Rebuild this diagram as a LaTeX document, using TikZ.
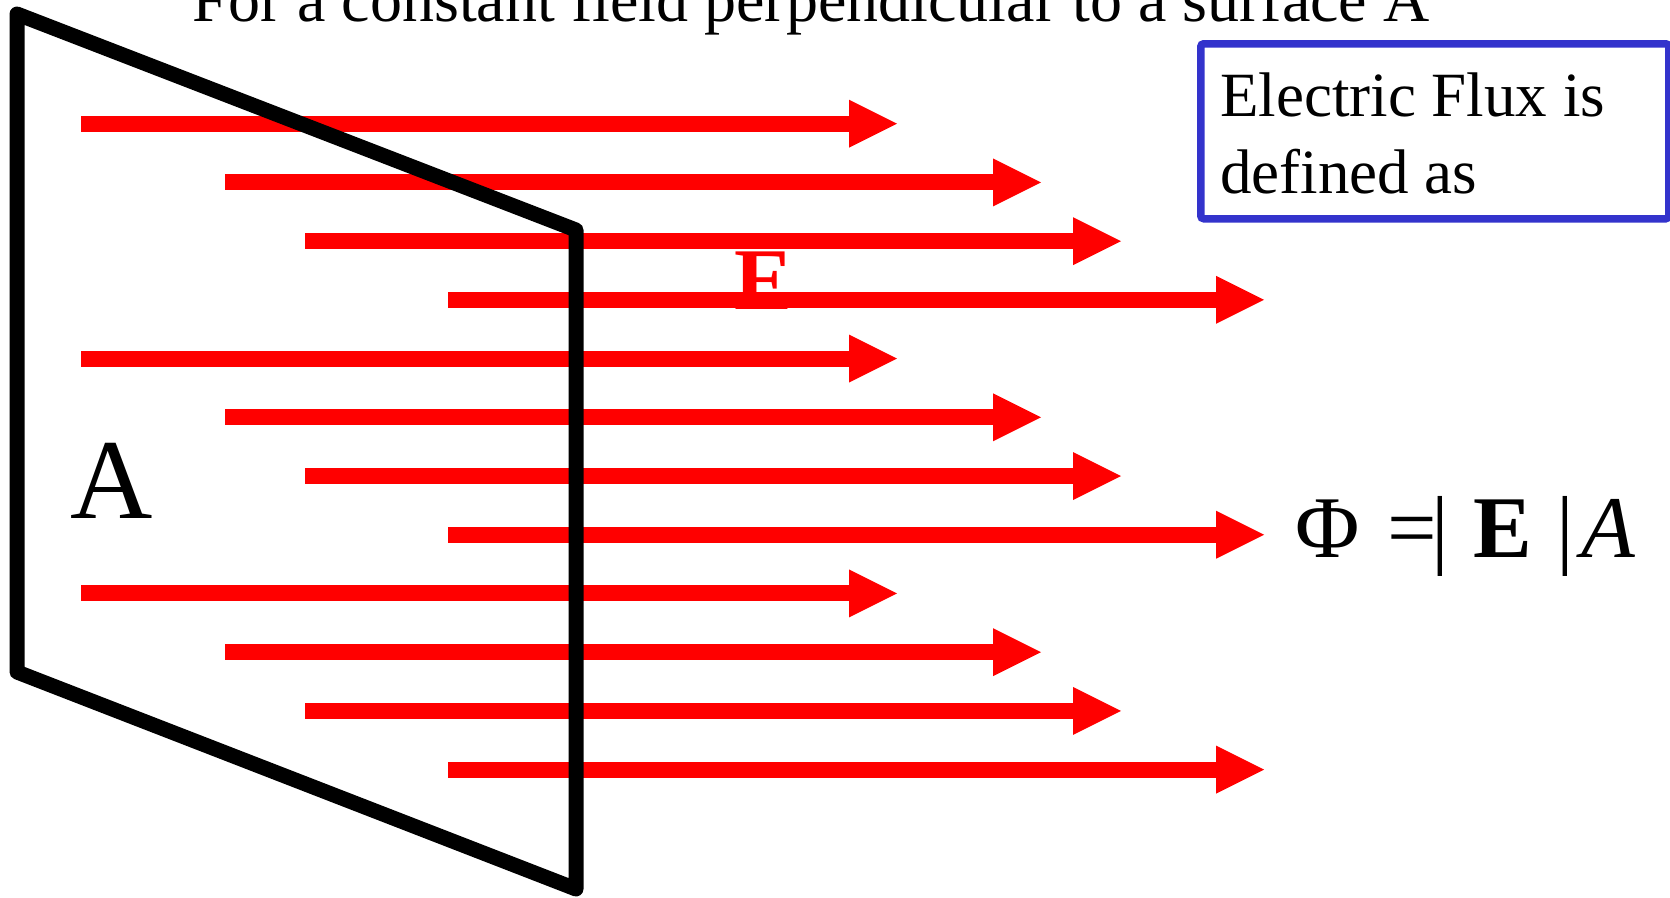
\documentclass[tikz,border=0pt]{standalone}
\usepackage{fontspec}
\setmainfont{Liberation Serif}
\usetikzlibrary{arrows.meta}
\definecolor{fieldred}{RGB}{255,0,0}
\definecolor{boxblue}{RGB}{51,51,204}
\begin{document}
\begin{tikzpicture}[x=1pt,y=-1pt,
  fieldline/.style={draw=fieldred, line width=16pt,
    -{Triangle[length=48pt 0 0,width=48pt 0 0,line width=0pt 0 0]}},
  plate/.style={draw=black, line width=15pt, line join=round},
  lbl/.style={inner sep=0pt, anchor=base},
  fluxbox/.style={draw=boxblue, line width=7.5pt, rounded corners=3pt, inner sep=0pt, anchor=north west, minimum width=468pt, minimum height=175pt}
]
\useasboundingbox (0,0) rectangle (1670,897);
% field lines
\foreach \k/\xs in {0/81,1/225,2/305,3/448,4/81,5/225,6/305,7/448,8/81,9/225,10/305,11/448}{
  \pgfmathsetmacro\yy{123.7+58.72*\k}
  \coordinate (s\k) at (\xs,\yy);
  \coordinate (t\k) at (\xs+816,\yy);
  \draw[fieldline] (s\k) -- (t\k);
}
\node[lbl, text=fieldred, font=\fontsize{88}{100}\selectfont\bfseries] (Elabel) at (764,309) {E};
% surface
\coordinate (p1) at (17,14);
\coordinate (p2) at (576,230);
\coordinate (p3) at (576,889);
\coordinate (p4) at (17,672);
\draw[plate] (p1) -- (p2) -- (p3) -- (p4) -- cycle;
% texts
\node[lbl, font=\fontsize{64}{77}\selectfont] (title) at (811,21) {For a constant field perpendicular to a surface A};
\node[lbl, font=\fontsize{114}{130}\selectfont] (areaA) at (112,518) {A};
\node[fluxbox] (box) at (1197,40) {};
\node[lbl, anchor=base west, align=left, font=\fontsize{63}{77}\selectfont] (boxtext) at (1220,193) {Electric Flux is\\defined as};
% formula
\node[lbl, font=\fontsize{88}{100}\selectfont] (phi) at (1328,557) {Φ};
\node[lbl, font=\fontsize{88}{100}\selectfont] (eq) at (1412,557) {=};
\node[lbl, font=\fontsize{88}{100}\selectfont] (bar1) at (1440,557) {|};
\node[lbl, font=\fontsize{88}{100}\selectfont\bfseries] (bE) at (1503,557) {E};
\node[lbl, font=\fontsize{88}{100}\selectfont] (bar2) at (1565,557) {|};
\node[lbl, font=\fontsize{88}{100}\selectfont\itshape] (iA) at (1608,557) {A};
\end{tikzpicture}
\end{document}
